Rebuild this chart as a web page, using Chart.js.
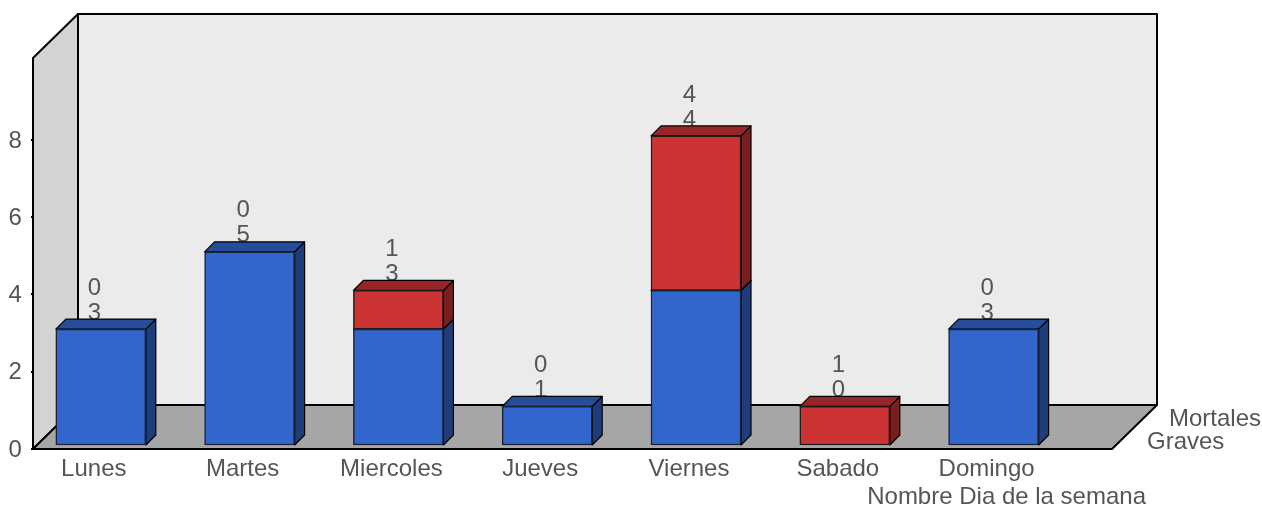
<!DOCTYPE html>
<html>
<head>
<meta charset="utf-8">
<script src="https://cdn.jsdelivr.net/npm/chart.js@4"></script>
<style>
  html, body { margin: 0; padding: 0; background: #fff; }
  canvas { display: block; }
</style>
</head>
<body>
<canvas id="chart" width="1262" height="506"></canvas>
<script>
const dias = ['Lunes', 'Martes', 'Miercoles', 'Jueves', 'Viernes', 'Sabado', 'Domingo'];
const graves = [3, 5, 3, 1, 4, 0, 3];
const mortales = [0, 0, 1, 0, 4, 1, 0];
const yTicks = [0, 2, 4, 6, 8];
const xTitle = 'Nombre Dia de la semana';

const FONT = '"Liberation Sans", Arial, sans-serif';
const FONT_SIZE = 24;
const TEXT = '#555555';

// frame of the fake 3D box, relative to the chart area
const WALL_LEFT = 6.6;
const WALL_RIGHT = 44;
const DEPTH_X = 45;
const DEPTH_Y = 44;
// bars sit a little in front of the back wall
const BAR_DX = 10;
const BAR_DY = 10;
const BAR_LIFT = 4;

function poly(ctx, pts, fill, stroke, width) {
  ctx.beginPath();
  pts.forEach((p, i) => (i ? ctx.lineTo(p[0], p[1]) : ctx.moveTo(p[0], p[1])));
  ctx.closePath();
  ctx.fillStyle = fill;
  ctx.fill();
  ctx.strokeStyle = stroke;
  ctx.lineWidth = width;
  ctx.lineJoin = 'round';
  ctx.stroke();
}

const box3d = {
  id: 'box3d',
  beforeDraw(chart) {
    const { ctx, chartArea: a } = chart;
    const l = a.left + WALL_LEFT;
    const r = a.right + WALL_RIGHT;
    const t = a.top;
    const b = a.bottom;
    ctx.save();
    poly(ctx, [[l + DEPTH_X, t - DEPTH_Y], [r + DEPTH_X, t - DEPTH_Y], [r + DEPTH_X, b - DEPTH_Y], [l + DEPTH_X, b - DEPTH_Y]], '#ebebeb', '#000', 2);
    poly(ctx, [[l, t], [l + DEPTH_X, t - DEPTH_Y], [l + DEPTH_X, b - DEPTH_Y], [l, b]], '#d3d3d3', '#000', 2);
    poly(ctx, [[l, b], [l + DEPTH_X, b - DEPTH_Y], [r + DEPTH_X, b - DEPTH_Y], [r, b]], '#a6a6a6', '#000', 2);

    // tick marks on the front edge of the left wall
    const y = chart.scales.y;
    ctx.strokeStyle = '#000';
    ctx.lineWidth = 2;
    yTicks.forEach(v => {
      const py = Math.round(y.getPixelForValue(v));
      ctx.beginPath();
      ctx.moveTo(l - 2, py);
      ctx.lineTo(l, py);
      ctx.stroke();
    });

    // series names along the depth axis
    ctx.font = `${FONT_SIZE}px ${FONT}`;
    ctx.fillStyle = TEXT;
    ctx.textBaseline = 'middle';
    ctx.textAlign = 'left';
    ctx.fillText(chart.data.datasets[0].label, r + 35, b - 7);
    ctx.fillText(chart.data.datasets[1].label, r + 57, b - 30);

    ctx.textAlign = 'right';
    ctx.fillText(xTitle, r + 34, 497);
    ctx.restore();
  },
  beforeDatasetsDraw(chart) {
    const { ctx } = chart;
    const y = chart.scales.y;
    const sides = ['#1f3d7a', '#7a1f1f'];
    const tops = ['#264d99', '#992626'];

    ctx.save();
    // value labels go behind the bars
    ctx.font = `${FONT_SIZE}px ${FONT}`;
    ctx.fillStyle = TEXT;
    ctx.textAlign = 'center';
    ctx.textBaseline = 'middle';
    dias.forEach((d, i) => {
      const x = chart.scales.x.getPixelForValue(i) - 6.5;
      const top = y.getPixelForValue(graves[i] + mortales[i]) - BAR_LIFT;
      ctx.fillText(String(graves[i]), x, top - 16);
      ctx.fillText(String(mortales[i]), x, top - 41);
    });

    // side and top faces
    chart.data.datasets.forEach((ds, n) => {
      chart.getDatasetMeta(n).data.forEach((bar, i) => {
        if (!ds.data[i]) return;
        const p = bar.getProps(['x', 'y', 'base', 'width'], true);
        const x1 = p.x - p.width / 2;
        const x2 = p.x + p.width / 2;
        const yt = p.y - BAR_LIFT;
        const yb = p.base - BAR_LIFT;
        poly(ctx, [[x2, yb], [x2 + BAR_DX, yb - BAR_DY], [x2 + BAR_DX, yt - BAR_DY], [x2, yt]], sides[n], '#000', 1.2);
        poly(ctx, [[x1, yt], [x1 + BAR_DX, yt - BAR_DY], [x2 + BAR_DX, yt - BAR_DY], [x2, yt]], tops[n], '#000', 1.2);
      });
    });
    ctx.restore();

    ctx.save();
    ctx.translate(0, -BAR_LIFT);
  },
  afterDatasetsDraw(chart) {
    chart.ctx.restore();
  }
};

new Chart(document.getElementById('chart'), {
  type: 'bar',
  data: {
    labels: dias,
    datasets: [
      { label: 'Graves', data: graves, backgroundColor: '#3366cc', borderColor: '#1c2230', borderWidth: 1.5, borderSkipped: false, clip: false },
      { label: 'Mortales', data: mortales, backgroundColor: '#cc3333', borderColor: '#1c1c1c', borderWidth: 1.5, borderSkipped: false, clip: false }
    ]
  },
  options: {
    responsive: false,
    animation: false,
    events: [],
    layout: { padding: { left: 0, right: 194, top: 58, bottom: 0 } },
    plugins: { legend: { display: false }, tooltip: { enabled: false } },
    scales: {
      x: {
        stacked: true,
        afterFit(scale) { scale.height = 57; },
        grid: { display: false, drawTicks: false },
        border: { display: false },
        ticks: {
          color: TEXT,
          font: { family: FONT, size: FONT_SIZE },
          padding: 6,
          labelOffset: -7,
          maxRotation: 0,
          autoSkip: false
        }
      },
      y: {
        stacked: true,
        min: 0,
        max: 10.12,
        afterFit(scale) { scale.width = 26.4; },
        afterBuildTicks(scale) { scale.ticks = yTicks.map(v => ({ value: v })); },
        grid: { display: false, drawTicks: false },
        border: { display: false },
        ticks: {
          color: TEXT,
          font: { family: FONT, size: FONT_SIZE },
          padding: 4.5,
          labelOffset: 1
        }
      }
    },
    datasets: { bar: { barThickness: 90 } }
  },
  plugins: [box3d]
});
</script>
</body>
</html>
